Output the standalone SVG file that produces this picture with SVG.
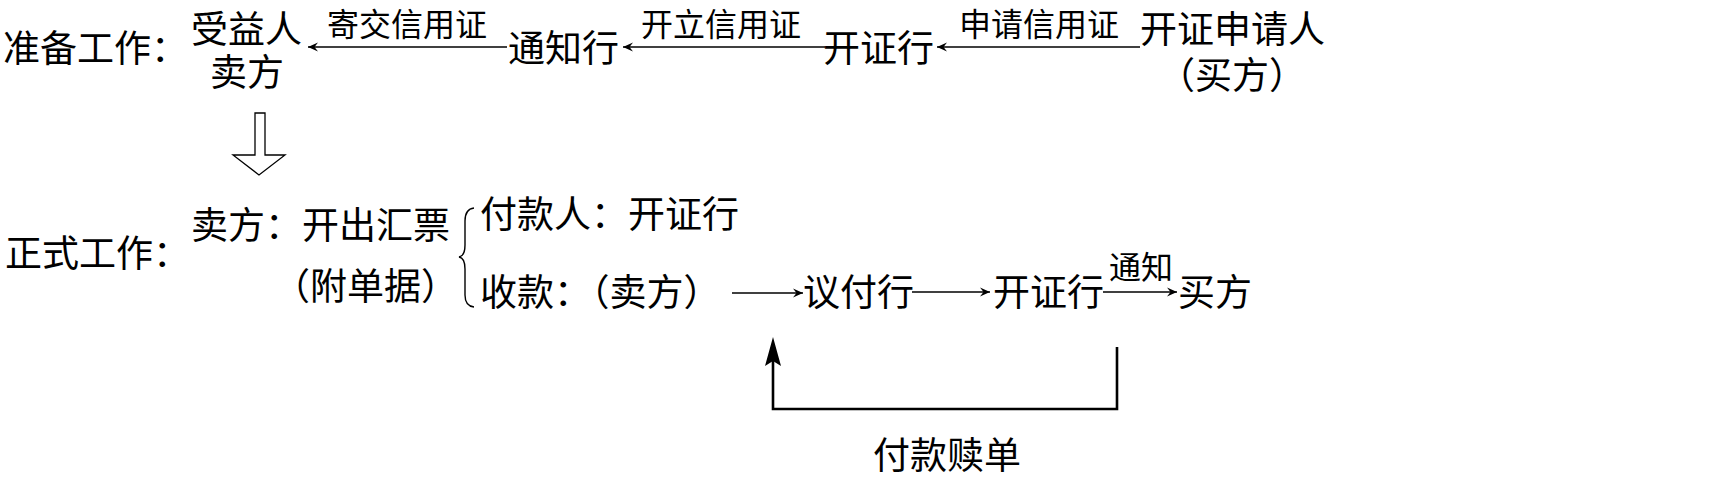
<svg xmlns="http://www.w3.org/2000/svg" width="1715" height="478" viewBox="0 0 1715 478">
<style>
text{font-family:"Noto Sans CJK SC","Noto Sans CJK TC",sans-serif;fill:#000}
.m{font-size:37px}
.l{font-size:32px}
.c{stroke:#000;stroke-width:1.4;fill:none}
.thick{stroke:#000;stroke-width:2.6;fill:none}
</style>
<defs>
<marker id="ah" markerUnits="userSpaceOnUse" orient="auto" refX="0" refY="0" markerWidth="12" markerHeight="10" overflow="visible">
<path d="M-10,-4.5 L0,0 L-10,4.5 L-6.5,0 Z" fill="#000"/>
</marker>
</defs>
<rect width="1715" height="478" fill="#fff"/>
<g id="prep-label"><text class="m" x="3" y="62">准备工作：</text></g>
<g id="beneficiary"><text class="m" x="191" y="43">受益人</text><text class="m" x="210" y="86">卖方</text></g>
<g id="advising-bank"><text class="m" x="508" y="62">通知行</text></g>
<g id="issuing-bank"><text class="m" x="823" y="62">开证行</text></g>
<g id="applicant"><text class="m" x="1140" y="43">开证申请人</text><text class="m" x="1158" y="89">（买方）</text></g>
<g id="formal-label"><text class="m" x="5" y="267">正式工作：</text></g>
<g id="draft"><text class="m" x="191" y="239">卖方：开出汇票</text><text class="m" x="273" y="300">（附单据）</text></g>
<g id="payer"><text class="m" x="480" y="228">付款人：开证行</text></g>
<g id="collect"><text class="m" x="480" y="306">收款：（卖方）</text></g>
<g id="negotiating-bank"><text class="m" x="803" y="306">议付行</text></g>
<g id="issuing-bank-2"><text class="m" x="993" y="306">开证行</text></g>
<g id="buyer"><text class="m" x="1178" y="306">买方</text></g>
<g id="connectors">
<line class="c" x1="507" y1="47" x2="308" y2="47" marker-end="url(#ah)"/>
<line class="c" x1="825" y1="47" x2="623" y2="47" marker-end="url(#ah)"/>
<line class="c" x1="1140" y1="47" x2="937" y2="47" marker-end="url(#ah)"/>
<text class="l" x="327" y="36">寄交信用证</text>
<text class="l" x="641" y="36">开立信用证</text>
<text class="l" x="959" y="36">申请信用证</text>
<polygon points="255,113 265,113 265,155 285,155 259,175 233,155 255,155" fill="#fff" stroke="#000" stroke-width="1.3"/>
<path class="c" stroke-width="1.6" d="M474,208 Q465,209 465,221 L465,245 Q465,256 459,257 Q465,258 465,269 L465,295 Q465,306 474,307"/>
<line class="c" x1="732" y1="293" x2="803" y2="293" marker-end="url(#ah)"/>
<line class="c" x1="912" y1="292" x2="990" y2="292" marker-end="url(#ah)"/>
<line class="c" x1="1103" y1="292" x2="1177" y2="292" marker-end="url(#ah)"/>
<text class="l" x="1109" y="279">通知</text>
<path class="thick" d="M1117,347 V409 H773 V360"/>
<polygon points="773,337 781,366 773,361 765,366" fill="#000"/>
<text class="m" x="873" y="469">付款赎单</text>
</g>
</svg>
